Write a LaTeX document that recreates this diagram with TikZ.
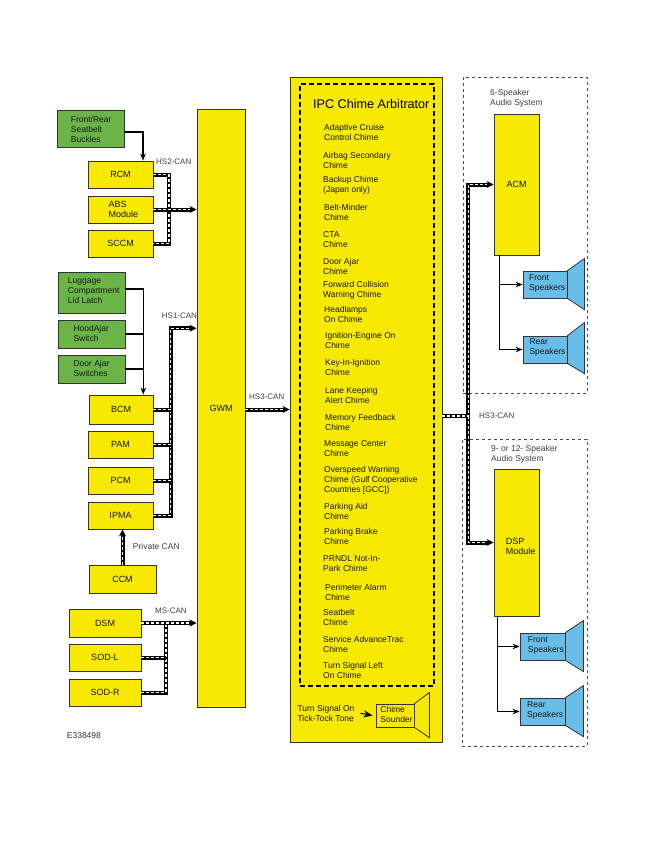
\documentclass[tikz,border=0pt]{standalone}
\usepackage{fontspec}
\setmainfont{Liberation Sans}
\usetikzlibrary{arrows.meta,calc}
\definecolor{ybox}{RGB}{247,234,0}
\definecolor{gbox}{RGB}{106,180,72}
\definecolor{bbox}{RGB}{104,190,232}
\newcommand\fsA{\fontsize{8.5}{10}\selectfont}
\newcommand\fsL{\fontsize{9}{10}\selectfont}
\newcommand\fsB{\fontsize{8}{9}\selectfont}
\begin{document}
\begin{tikzpicture}[x=1pt,y=-1pt,
  bx/.style={draw=black!80, line width=0.8pt, inner sep=0pt, font=\fsL, text=black!90},
  ybx/.style={bx, fill=ybox},
  gbx/.style={bx, fill=gbox},
  spk/.style={bx, fill=bbox, minimum width=44pt, minimum height=27pt},
  horn/.style={draw=black!80, line width=0.8pt, line join=miter},
  txt/.style={inner sep=0pt, align=left, font=\fsA, text=black!90},
  lbl/.style={inner sep=0pt, align=left, font=\fsB, text=black!75},
  canbus/.style={line width=4pt, draw=black,
    postaction={draw=white, line width=1.6pt, dash pattern=on 3pt off 2pt, arrows=-}},
  canarr/.style={line width=4pt, draw=black, -{Stealth[length=7pt,width=7pt]},
    postaction={draw=white, line width=1.6pt, dash pattern=on 3pt off 2pt, arrows=-, shorten >=7pt}},
  sarr/.style={line width=1.6pt, draw=black, -{Stealth[length=7pt,width=5.5pt]}},
  sln/.style={line width=1.6pt, draw=black},
  dbox/.style={draw=black!70, line width=0.8pt, dash pattern=on 3pt off 3pt, inner sep=0pt}
]
\useasboundingbox[fill=white] (0,0) rectangle (650,841);

% ---------------- left: HS2 group
\node[gbx, minimum width=67pt, minimum height=37pt] (frb) at (90.5,128.5) {};
\node[txt, anchor=west] (frbt) at (70.7,129.3) {Front/Rear\\Seatbelt\\Buckles};
\node[ybx, minimum width=65pt, minimum height=27pt] (rcm) at (120.5,174.5) {RCM};
\node[ybx, minimum width=65pt, minimum height=27pt] (abs) at (120.5,209.5) {};
\node[txt, anchor=west, font=\fsL] (abst) at (108.5,209.5) {ABS\\Module};
\node[ybx, minimum width=65pt, minimum height=27pt] (sccm) at (120.5,243.5) {SCCM};

% ---------------- left: HS1 group
\node[gbx, minimum width=67pt, minimum height=41pt] (lug) at (91.5,292.5) {};
\node[txt, anchor=west] (lugt) at (67.7,290.3) {Luggage\\Compartment\\Lid Latch};
\node[gbx, minimum width=67pt, minimum height=28pt] (hood) at (91.5,334) {};
\node[txt, anchor=west] (hoodt) at (73.3,333.3) {HoodAjar\\Switch};
\node[gbx, minimum width=67pt, minimum height=28pt] (door) at (91.5,369) {};
\node[txt, anchor=west] (doort) at (73.3,368.3) {Door Ajar\\Switches};
\node[ybx, minimum width=64pt, minimum height=29pt] (bcm) at (121,409.5) {BCM};
\node[ybx, minimum width=65pt, minimum height=27pt] (pam) at (120.5,444.5) {PAM};
\node[ybx, minimum width=65pt, minimum height=27pt] (pcm) at (120.5,480.5) {PCM};
\node[ybx, minimum width=65pt, minimum height=27pt] (ipma) at (120.5,515.5) {IPMA};
\node[ybx, minimum width=67pt, minimum height=28pt] (ccm) at (122.5,579) {CCM};

% ---------------- left: MS group
\node[ybx, minimum width=72pt, minimum height=28pt] (dsm) at (105,623) {DSM};
\node[ybx, minimum width=72pt, minimum height=27pt] (sodl) at (105,657.5) {SOD-L};
\node[ybx, minimum width=72pt, minimum height=27pt] (sodr) at (105,692.5) {SOD-R};

\node[inner sep=0pt, anchor=west, font=\fsA, text=black!80] (eid) at (66.7,735.7) {E338498};

% ---------------- GWM
\node[ybx, minimum width=48pt, minimum height=598pt] (gwm) at (221,408) {GWM};

% ---------------- IPC
\node[ybx, minimum width=152pt, minimum height=665pt] (ipc) at (366,409.5) {};
\node[draw=black, line width=2pt, dash pattern=on 5pt off 3pt, inner sep=0pt,
      minimum width=134pt, minimum height=602pt] (ipcin) at (367,385) {};
\node[inner sep=0pt, anchor=west, font=\fontsize{12.6}{14}\selectfont] (title) at (313,104) {IPC Chime Arbitrator};

\node[txt, anchor=west] (c1)  at (324,132.5) {Adaptive Cruise\\Control Chime};
\node[txt, anchor=west] (c2)  at (323,160)   {Airbag Secondary\\Chime};
\node[txt, anchor=west] (c3)  at (323,185.7) {Backup Chime\\(Japan only)};
\node[txt, anchor=west] (c4)  at (324,212.7) {Belt-Minder\\Chime};
\node[txt, anchor=west] (c5)  at (323,240)   {CTA\\Chime};
\node[txt, anchor=west] (c6)  at (323,266.7) {Door Ajar\\Chime};
\node[txt, anchor=west] (c7)  at (323,290)   {Forward Collision\\Warning Chime};
\node[txt, anchor=west] (c8)  at (324,314.3) {Headlamps\\On Chime};
\node[txt, anchor=west] (c9)  at (325,340.8) {Ignition-Engine On\\Chime};
\node[txt, anchor=west] (c10) at (325,367.5) {Key-In-Ignition\\Chime};
\node[txt, anchor=west] (c11) at (325,395.3) {Lane Keeping\\Alert Chime};
\node[txt, anchor=west] (c12) at (325,422)   {Memory Feedback\\Chime};
\node[txt, anchor=west] (c13) at (324,449)   {Message Center\\Chime};
\node[txt, anchor=west] (c14) at (324,480.3) {Overspeed Warning\\Chime (Gulf Cooperative\\Countries [GCC])};
\node[txt, anchor=west] (c15) at (324,511)   {Parking Aid\\Chime};
\node[txt, anchor=west] (c16) at (324,536.3) {Parking Brake\\Chime};
\node[txt, anchor=west] (c17) at (323,563.2) {PRNDL Not-In-\\Park Chime};
\node[txt, anchor=west] (c18) at (325,592.2) {Perimeter Alarm\\Chime};
\node[txt, anchor=west] (c19) at (323,617.8) {Seatbelt\\Chime};
\node[txt, anchor=west] (c20) at (323,644)   {Service AdvanceTrac\\Chime};
\node[txt, anchor=west] (c21) at (323,670.7) {Turn Signal Left\\On Chime};

\node[txt, anchor=west] (tsig) at (297.3,713.3) {Turn Signal On\\Tick-Tock Tone};
\node[bx, minimum width=38pt, minimum height=23pt] (snd) at (395,715.5) {};
\node[txt, anchor=west] (sndt) at (380.2,714.7) {Chime\\Sounder};
\draw[horn, fill=ybox] (snd.north east) -- ++(15,-11) -- ++(0,45) -- (snd.south east) -- cycle;
\draw[line width=1pt, -{Stealth[length=9pt,width=7pt]}] ([xshift=6pt]tsig.east) -- ([xshift=-3pt]snd.west);

% ---------------- right: audio systems
\node[dbox, minimum width=124pt, minimum height=316pt] (aud6) at (525,235) {};
\node[lbl, anchor=west, font=\fsA] (aud6t) at (490,98.3) {6-Speaker\\Audio System};
\node[ybx, minimum width=45pt, minimum height=141pt] (acm) at (516.5,184.5) {ACM};
\node[spk] (fsp1) at (545,284.5) {};
\node[txt, anchor=west] (fsp1t) at (529,283.2) {Front\\Speakers};
\node[spk] (rsp1) at (545,349.5) {};
\node[txt, anchor=west] (rsp1t) at (529.3,347.7) {Rear\\Speakers};
\draw[horn, fill=bbox] (fsp1.north east) -- ++(17,-12) -- ++(0,51) -- (fsp1.south east) -- cycle;
\draw[horn, fill=bbox] (rsp1.north east) -- ++(17,-13) -- ++(0,51) -- (rsp1.south east) -- cycle;

\node[dbox, minimum width=125pt, minimum height=307pt] (aud9) at (524.5,592.5) {};
\node[lbl, anchor=west, font=\fsA] (aud9t) at (491,454) {9- or 12- Speaker\\Audio System};
\node[ybx, minimum width=45pt, minimum height=147pt] (dsp) at (516.5,542.5) {};
\node[txt, anchor=west, font=\fsL] (dspt) at (505.7,546.7) {DSP\\Module};
\node[spk, minimum width=45pt] (fsp2) at (542.5,646.5) {};
\node[txt, anchor=west] (fsp2t) at (527.7,645.7) {Front\\Speakers};
\node[spk, minimum width=45pt] (rsp2) at (542.5,711.5) {};
\node[txt, anchor=west] (rsp2t) at (527,710) {Rear\\Speakers};
\draw[horn, fill=bbox] (fsp2.north east) -- ++(18,-12) -- ++(0,51) -- (fsp2.south east) -- cycle;
\draw[horn, fill=bbox] (rsp2.north east) -- ++(18,-12) -- ++(0,51) -- (rsp2.south east) -- cycle;

% ---------------- coordinates
\coordinate (hs2x) at (169,0);
\coordinate (hs1) at (170.5,328.3);
\coordinate (msx) at (166,0);
\coordinate (b3) at (468.3,416);
\coordinate (bx) at (143.3,0);
\coordinate (sbx) at (143,0);
\coordinate (a1) at (499.3,255);
\coordinate (a2) at (497.3,616);

% ---------------- plain arrows
\draw[sarr] ([yshift=-3.5pt]frb.east) -| (sbx |- rcm.north);
\draw[sarr] ([yshift=3.5pt]lug.east) -| (bx |- bcm.north);
\draw[sln] (hood.east) -- (hood.east -| bx);
\draw[sln] (door.east) -- (door.east -| bx);
\draw[sarr] (a1) |- (rsp1.west);
\draw[sarr] (a1 |- fsp1.west) -- (fsp1.west);
\draw[sarr] (a2) |- (rsp2.west);
\draw[sarr] (a2 |- fsp2.west) -- (fsp2.west);

% ---------------- CAN buses
\draw[canbus] (rcm.east) -| (sccm.east -| hs2x) -- (sccm.east);
\draw[canarr] (abs.east) -- (abs.east -| gwm.west);
\node[lbl, anchor=west] (hs2l) at (156,162) {HS2-CAN};

\draw[canarr] (ipma.east) -| (hs1) -- (hs1 -| gwm.west);
\draw[canbus] (bcm.east) -- (bcm.east -| hs1);
\draw[canbus] (pam.east) -- (pam.east -| hs1);
\draw[canbus] (pcm.east) -- (pcm.east -| hs1);
\node[lbl, anchor=west] (hs1l) at (161.7,316) {HS1-CAN};

\draw[canarr] (ccm.north) -- (ccm.north |- ipma.south);
\node[lbl, anchor=west, font=\fsA] (pcan) at (132.7,546.7) {Private CAN};

\draw[canbus] (sodr.east) -| (msx |- dsm.east);
\draw[canbus] (sodl.east) -- (sodl.east -| msx);
\draw[canarr] (dsm.east) -- (dsm.east -| gwm.west);
\node[lbl, anchor=west] (msl) at (155,610.7) {MS-CAN};

\draw[canarr] (gwm.east |- ipc.west) -- (ipc.west);
\node[lbl, anchor=west] (hs3l) at (249,397) {HS3-CAN};

\draw[canarr] (b3 |- dsp.west) |- (acm.west);
\draw[canarr] (b3) |- (dsp.west);
\draw[canbus] (ipc.east |- b3) -- (b3);
\node[lbl, anchor=west] (hs3r) at (479,416) {HS3-CAN};
\end{tikzpicture}
\end{document}
